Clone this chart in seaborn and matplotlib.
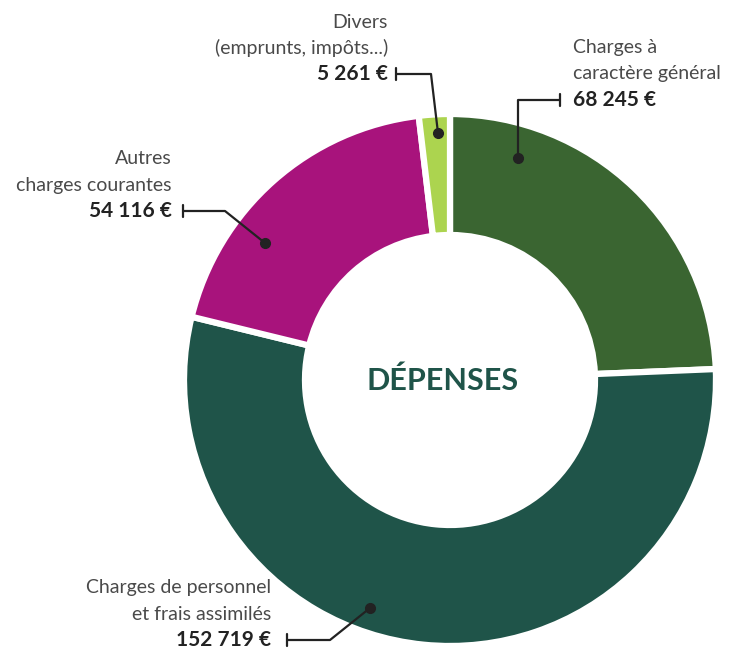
import matplotlib.pyplot as plt
import seaborn as sns

# données
categories = ["Charges à\ncaractère général", "Charges de personnel\net frais assimilés",
              "Autres\ncharges courantes", "Divers\n(emprunts, impôts...)"]
montants = [68245, 152719, 54116, 5261]
montants_txt = ["68 245 €", "152 719 €", "54 116 €", "5 261 €"]
couleurs = ["#3a6531", "#1f5449", "#a8137c", "#acd44f"]

W, H = 729, 650
CX, CY, R_EXT, LARGEUR = 450, 380, 266, 121

sns.set_style("white")
plt.rcParams['font.family'] = ['Lato', 'DejaVu Sans']

fig = plt.figure(figsize=(W / 100, H / 100), dpi=100)
ax = fig.add_axes([0, 0, 1, 1])
ax.set_xlim(0, W)
ax.set_ylim(0, H)
ax.set_aspect('equal')
ax.axis('off')

def Y(y):
    return H - y

ax.pie(montants, colors=couleurs, startangle=90, counterclock=False,
       center=(CX, Y(CY)), radius=R_EXT,
       wedgeprops=dict(width=LARGEUR, edgecolor='white', linewidth=4.5))
ax.set_xlim(0, W)
ax.set_ylim(0, H)

ax.text(443, Y(381), "DÉPENSES", ha='center', va='center', fontsize=22,
        fontweight='bold', color='#1f5449')

# étiquettes : (x texte, y valeur, alignement, trait)
etiquettes = [
    (573, 100, 'left', [(560, 100), (518, 100), (518, 158)]),
    (271, 640, 'right', [(287, 640), (330, 640), (370, 608)]),
    (172, 211, 'right', [(183, 211), (225, 211), (265, 243)]),
    (388, 74, 'right', [(396, 74), (431, 74), (438, 133)]),
]

for (tx, ty, ha, trait), cat, val in zip(etiquettes, categories, montants_txt):
    lignes = cat.split("\n")
    for i, l in enumerate(lignes):
        ax.text(tx, Y(ty - 26 * (len(lignes) - i)), l, ha=ha, va='center',
                fontsize=14, fontweight='normal', color='#4a4a4a')
    ax.text(tx, Y(ty), val, ha=ha, va='center', fontsize=15,
            fontweight='bold', color='#222222')
    xs = [p[0] for p in trait]
    ys = [Y(p[1]) for p in trait]
    ax.plot(xs, ys, color='#222222', lw=1.6, solid_capstyle='butt')
    ax.plot([xs[0], xs[0]], [ys[0] - 6, ys[0] + 6], color='#222222', lw=1.6)
    ax.plot(xs[-1], ys[-1], 'o', color='#222222', ms=7)

fig.savefig("out.png", dpi=100)
